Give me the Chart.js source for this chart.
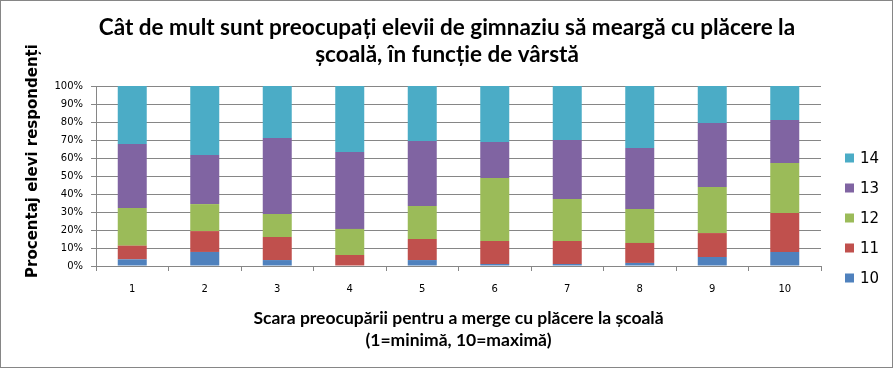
<!DOCTYPE html>
<html>
<head>
<meta charset="utf-8">
<script src="https://cdn.jsdelivr.net/npm/chart.js@4"></script>
<style>
  html, body { margin: 0; padding: 0; background: #fff; }
  #wrap { width: 894px; height: 369px; }
</style>
</head>
<body>
<div id="wrap"><canvas id="chart" width="894" height="369"></canvas></div>
<script>
// Scale 1..10, share of pupils (in %) for each age group
const categories = ['1', '2', '3', '4', '5', '6', '7', '8', '9', '10'];
const age10 = [3.7, 7.8, 3.3, 0, 3.3, 1.1, 1.1, 1.7, 5.0, 7.8];
const age11 = [7.6, 11.6, 12.8, 6.1, 11.7, 12.8, 12.8, 11.1, 13.3, 21.6];
const age12 = [20.9, 15.0, 12.8, 14.5, 18.3, 35.0, 23.3, 18.9, 25.6, 27.8];
const age13 = [35.6, 27.3, 42.2, 42.7, 36.1, 20.0, 32.8, 33.9, 35.5, 23.9];
const age14 = [32.2, 38.3, 28.9, 36.7, 30.6, 31.1, 30.0, 34.4, 20.6, 18.9];
const seriesLabels = ['10', '11', '12', '13', '14'];
const seriesColors = ['#4F81BD', '#C0504D', '#9BBB59', '#8064A2', '#4BACC6'];
const yTicks = [0, 10, 20, 30, 40, 50, 60, 70, 80, 90, 100];

const gridGray = '#868686';
const titleFont = 'Lato';
const yTitle = 'Procentaj elevi respondenți';

// outer border, y axis title and legend on the right, drawn like Excel does
const frameAndLegend = {
    id: 'frameAndLegend',
    afterDraw(chart) {
        const ctx = chart.ctx;
        ctx.save();
        ctx.strokeStyle = gridGray;
        ctx.lineWidth = 1;
        ctx.strokeRect(0.5, 0.5, 892, 367);

        // vertical axis title (sits a bit above the middle of the plot)
        ctx.save();
        ctx.translate(33, 161);
        ctx.rotate(-Math.PI / 2);
        ctx.font = 'bold 15px "DejaVu Sans"';
        ctx.fillStyle = '#000';
        ctx.textAlign = 'center';
        ctx.textBaseline = 'middle';
        ctx.fillText(yTitle, 0, 0);
        ctx.restore();

        // legend, top item is the last series
        const items = chart.data.datasets.slice().reverse();
        const x = 845, y0 = 158, step = 30;
        ctx.font = '15px "DejaVu Sans"';
        ctx.textBaseline = 'middle';
        ctx.textAlign = 'left';
        items.forEach((ds, i) => {
            const y = y0 + i * step;
            ctx.fillStyle = ds.backgroundColor;
            ctx.fillRect(x, y - 4.5, 9, 9);
            ctx.fillStyle = '#000';
            ctx.fillText(ds.label, x + 15, y + 1);
        });
        ctx.restore();
    }
};

const seriesData = [age10, age11, age12, age13, age14];

new Chart(document.getElementById('chart'), {
    type: 'bar',
    data: {
        labels: categories,
        datasets: seriesLabels.map((label, i) => ({
            label: label,
            data: seriesData[i],
            backgroundColor: seriesColors[i],
            borderWidth: 0,
            barPercentage: 0.4,
            categoryPercentage: 1
        }))
    },
    options: {
        responsive: false,
        animation: false,
        layout: { padding: 0 },
        plugins: {
            legend: { display: false },
            tooltip: { enabled: false },
            title: {
                display: true,
                text: ['Cât de mult sunt preocupați elevii de gimnaziu să meargă cu plăcere la',
                       'școală, în funcție de vârstă'],
                color: '#000',
                font: { family: titleFont, size: 22.5, weight: 'bold', lineHeight: '27px' },
                padding: { top: 14.5, bottom: 17.5 }
            }
        },
        scales: {
            x: {
                stacked: true,
                afterFit(scale) { scale.height = 103; },
                grid: {
                    offset: true,
                    drawOnChartArea: false,
                    color: gridGray,
                    tickLength: 5
                },
                border: { color: gridGray },
                ticks: {
                    color: '#000',
                    padding: 12,
                    font: { family: 'DejaVu Sans', size: 10 }
                },
                title: {
                    display: true,
                    text: ['Scara preocupării pentru a merge cu plăcere la școală',
                           '(1=minimă, 10=maximă)'],
                    color: '#000',
                    font: { family: titleFont, size: 17.5, weight: 'bold', lineHeight: '22px' },
                    padding: { top: 0, bottom: 18 }
                }
            },
            y: {
                stacked: true,
                min: 0,
                max: 100,
                afterFit(scale) { scale.width = 96; },
                afterBuildTicks(scale) { scale.ticks = yTicks.map(v => ({ value: v })); },
                grid: { color: gridGray, tickLength: 5 },
                border: { color: gridGray },
                ticks: {
                    color: '#000',
                    padding: 8,
                    font: { family: 'DejaVu Sans', size: 10 },
                    callback: v => v + '%'
                }
            },
            // empty axis that only keeps room for the legend on the right
            legendRoom: {
                type: 'linear',
                position: 'right',
                afterFit(scale) { scale.width = 73; },
                grid: { display: false },
                border: { display: false },
                ticks: { display: false }
            }
        }
    },
    plugins: [frameAndLegend]
});
</script>
</body>
</html>
